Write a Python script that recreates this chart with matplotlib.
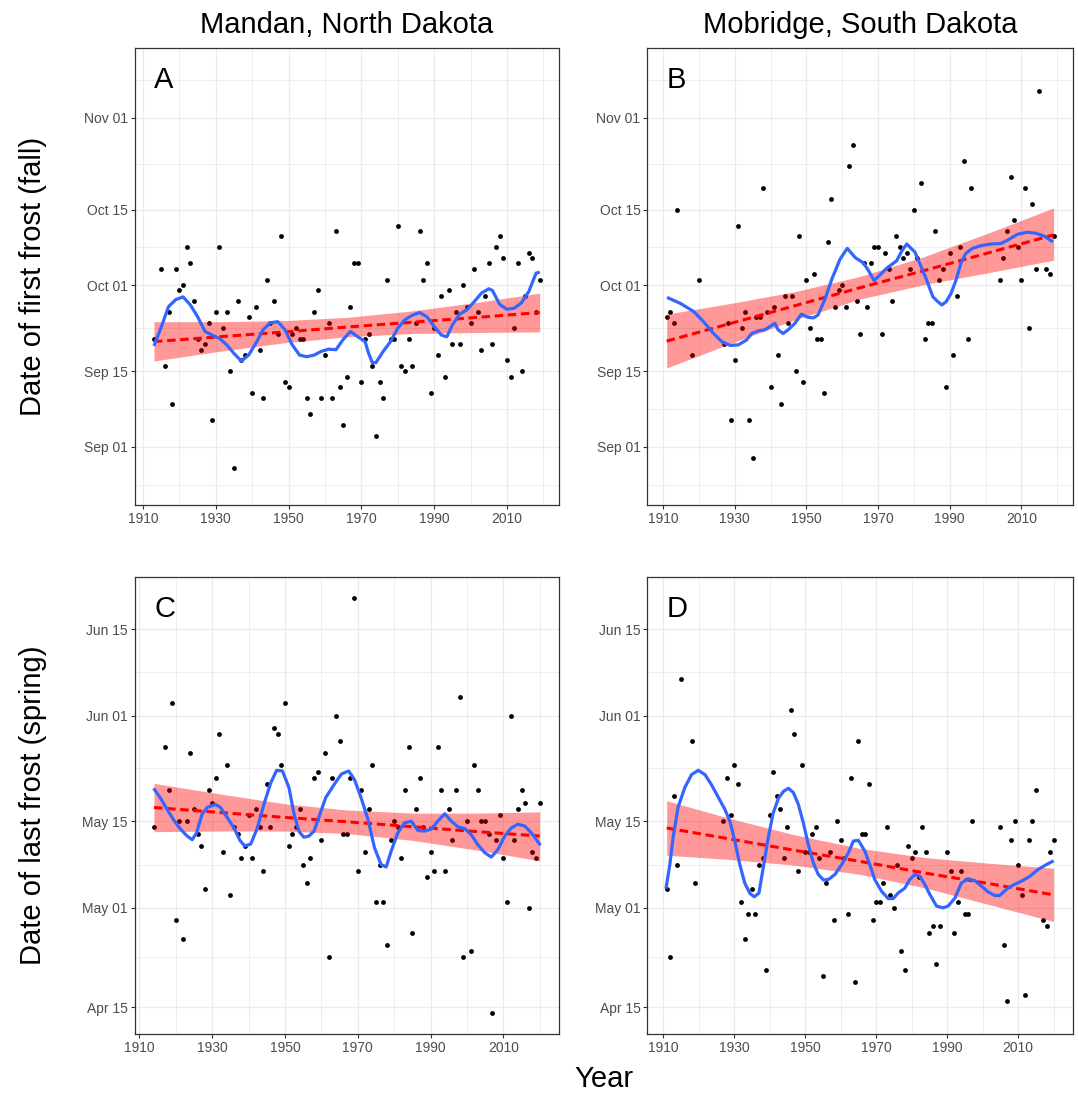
import matplotlib
matplotlib.use('Agg')
import matplotlib.pyplot as plt

plt.rcParams['font.family'] = ['Liberation Sans', 'DejaVu Sans']

# y values are day of year (non leap year)
fall_ticks = [244, 258, 274, 288, 305]
fall_labels = ['Sep 01', 'Sep 15', 'Oct 01', 'Oct 15', 'Nov 01']
fall_minor = [237, 251, 266, 281, 296.5, 312]
spring_ticks = [105, 121, 135, 152, 166]
spring_labels = ['Apr 15', 'May 01', 'May 15', 'Jun 01', 'Jun 15']
spring_minor = [113, 128, 143.5, 159]
year_ticks = [1910, 1930, 1950, 1970, 1990, 2010]
year_minor = [1920, 1940, 1960, 1980, 2000, 2020]

# ---- A : Mandan, first frost ----
a_year = [1913] + list(range(1915, 2020))
a_day = [264,
         277, 259, 269, 252, 277, 273, 274, 281, 278, 271,
         264, 262, 263, 267, 249, 269, 281, 266, 269, 258,
         240, 271, 260, 261, 268, 254, 270, 262, 253, 275,
         267, 271, 265, 283, 256, 255, 265, 266, 264, 264,
         253, 250, 269, 273, 253, 261, 267, 253, 284, 255,
         248, 257, 270, 278, 278, 256, 264, 265, 259, 246,
         256, 253, 275, 264, 264, 285, 259, 258, 264, 259,
         267, 284, 275, 278, 254, 266, 261, 272, 257, 273,
         263, 269, 263, 274, 270, 267, 277, 269, 262, 272,
         278, 263, 281, 283, 279, 260, 257, 266, 278, 258,
         272, 280, 279, 269, 275]
a_fit_x = [1913, 1931, 1949, 1966, 1984, 2002, 2019]
a_fit_mid = [263.5, 264.4, 265.3, 266.2, 267.1, 268.0, 268.9]
a_fit_lo = [259.9, 261.7, 263.3, 264.4, 265.0, 265.2, 265.3]
a_fit_hi = [267.2, 267.2, 267.4, 268.0, 269.2, 270.8, 272.5]
a_smooth_x = [1913, 1915, 1917, 1919, 1921, 1923, 1925, 1927, 1929, 1931,
              1933, 1935, 1937, 1939, 1941, 1943, 1945, 1947, 1949, 1951,
              1953, 1955, 1957, 1959, 1961, 1963, 1965, 1967, 1969, 1971,
              1972, 1973, 1974, 1976, 1978, 1980, 1982, 1984, 1986, 1988,
              1990, 1992, 1993.5, 1995, 1997, 1999, 2001, 2003, 2005, 2006,
              2008, 2010, 2012, 2014, 2016, 2018, 2019]
a_smooth_y = [262.7, 266.2, 270.0, 271.3, 271.8, 270.3, 268.1, 265.4, 264.7, 264.1,
              262.9, 261.3, 259.9, 261.0, 263.2, 265.7, 267.0, 267.2, 265.7, 262.9,
              261.0, 260.7, 261.0, 261.7, 262.1, 262.0, 263.9, 265.4, 264.4, 263.5,
              261.3, 259.6, 259.6, 261.7, 263.5, 266.0, 267.6, 268.4, 268.9, 268.1,
              266.3, 264.7, 264.4, 266.6, 268.6, 269.4, 270.9, 272.5, 273.3, 273.0,
              270.4, 269.5, 269.7, 270.7, 272.8, 276.2, 276.4]

# ---- B : Mobridge, first frost ----
b_year = [1911, 1912, 1913, 1914, 1918, 1920] + list(range(1927, 1997)) \
         + list(range(2004, 2016)) + [2017, 2018, 2019]
b_day = [268, 269, 267, 288, 261, 275,
         263, 267, 249, 260, 285, 266, 269, 249, 242, 268,
         268, 292, 269, 255, 270, 261, 252, 272, 267, 272,
         258, 283, 256, 275, 266, 276, 264, 264, 254, 282,
         290, 270, 273, 274, 270, 296, 300, 271, 265, 278,
         270, 278, 281, 281, 265, 280, 277, 271, 283, 281,
         279, 280, 277, 288, 279, 293, 264, 267, 267, 284,
         275, 277, 255, 280, 261, 272, 281, 297, 264, 292,
         275, 279, 284, 294, 286, 281, 275, 292, 266, 289, 277, 310,
         277, 276, 283]
b_fit_x = [1911, 1929, 1947, 1965, 1983, 2001, 2019]
b_fit_mid = [263.6, 266.9, 270.2, 273.5, 276.7, 280.0, 283.3]
b_fit_lo = [258.6, 263.2, 267.6, 271.4, 274.1, 276.3, 278.6]
b_fit_hi = [268.6, 270.6, 272.8, 275.6, 279.3, 283.7, 288.3]
b_smooth_x = [1911.1, 1914.8, 1918.5, 1921.3, 1924.1, 1926.4, 1928.7, 1931.0, 1933.3, 1934.7,
              1936.6, 1938.4, 1939.8, 1941.2, 1942.1, 1943.5, 1944.9, 1946.8, 1948.6, 1950.5,
              1951.9, 1953.2, 1955.2, 1957.1, 1959.4, 1961.4, 1963.6, 1965.9, 1967.3, 1968.9,
              1970.1, 1972.4, 1975.2, 1976.7, 1978.0, 1980.3, 1983.4, 1985.3, 1986.7, 1987.8,
              1989.0, 1990.4, 1991.8, 1993.1, 1994.5, 1996.4, 1998.7, 2001.5, 2004.3, 2006.1,
              2008.9, 2011.7, 2014.0, 2016.3, 2018.8]
b_smooth_y = [271.7, 270.6, 269.1, 267.2, 265.0, 263.5, 262.8, 262.9, 263.8, 265.0,
              265.5, 265.7, 266.3, 266.9, 265.7, 265.0, 265.7, 266.9, 268.6, 268.0,
              267.9, 268.4, 271.4, 275.1, 278.8, 280.8, 279.1, 278.1, 276.7, 274.8,
              275.6, 277.1, 278.5, 280.4, 281.6, 280.1, 275.2, 271.8, 270.9, 270.3,
              270.9, 272.5, 275.0, 278.0, 279.9, 280.8, 281.3, 281.6, 281.7, 282.3,
              283.4, 283.8, 283.6, 283.1, 282.0]

# ---- C : Mandan, last frost ----
c_year = [1914] + list(range(1917, 2021))
c_day = [134,
         147, 140, 154, 119, 135, 116, 135, 146, 137, 133,
         131, 124, 140, 138, 142, 149, 130, 144, 123, 134,
         133, 129, 131, 136, 129, 137, 134, 127, 141, 134,
         150, 149, 144, 154, 131, 133, 134, 137, 128, 125,
         129, 142, 143, 132, 146, 113, 142, 152, 148, 133,
         133, 142, 171, 127, 140, 130, 137, 144, 122, 128,
         122, 115, 132, 135, 134, 129, 140, 147, 117, 137,
         142, 134, 126, 130, 127, 147, 140, 127, 137, 132,
         140, 155, 113, 135, 114, 144, 140, 135, 135, 133,
         104, 132, 136, 129, 122, 152, 132, 137, 140, 138,
         121, 130, 129, 138]
c_fit_x = [1914, 1932, 1950, 1967, 1985, 2003, 2020]
c_fit_mid = [137.2, 136.4, 135.6, 134.9, 134.1, 133.3, 132.6]
c_fit_lo = [133.3, 133.4, 133.4, 133.0, 131.9, 130.3, 128.6]
c_fit_hi = [141.1, 139.4, 137.8, 136.8, 136.3, 136.3, 136.5]
c_smooth_x = [1913.9, 1915.8, 1917.6, 1919.4, 1921.3, 1923.1, 1924.5, 1925.7, 1927.2, 1928.6,
              1930.9, 1932.3, 1934.1, 1936.0, 1937.6, 1938.9, 1940.6, 1942.4, 1944.2, 1946.1,
              1947.7, 1949.3, 1951.1, 1952.5, 1953.9, 1955.2, 1956.6, 1958.0, 1959.4, 1961.2,
              1963.5, 1965.5, 1967.5, 1969.1, 1970.9, 1972.8, 1974.6, 1976.4, 1977.8, 1979.2,
              1981.0, 1982.8, 1984.7, 1986.5, 1988.3, 1990.2, 1992.0, 1993.9, 1995.7, 1997.5,
              1999.4, 2001.2, 2003.0, 2004.9, 2006.7, 2008.5, 2010.4, 2012.2, 2014.0, 2015.9,
              2017.7, 2019.1, 2020.2]
c_smooth_y = [140.3, 138.7, 136.9, 135.2, 133.7, 132.6, 132.0, 133.1, 136.1, 137.2,
              137.7, 137.2, 135.6, 133.9, 131.9, 131.0, 131.3, 133.9, 137.7, 141.2,
              143.2, 143.1, 140.4, 136.1, 133.3, 132.4, 132.6, 133.4, 135.8, 138.8,
              140.9, 142.6, 143.1, 141.7, 138.8, 135.3, 130.7, 128.0, 127.6, 130.2,
              133.1, 134.7, 135.0, 133.5, 133.4, 133.7, 135.0, 136.2, 135.0, 134.1,
              133.8, 132.8, 131.2, 129.9, 129.2, 130.4, 132.6, 133.9, 134.5, 134.2,
              133.1, 132.0, 131.1]

# ---- D : Mobridge, last frost ----
d_year = [1911, 1912, 1913, 1914, 1915, 1918, 1919] + list(range(1927, 1989)) \
         + list(range(1990, 1998)) + list(range(2005, 2016)) + [2017, 2018, 2019, 2020]
d_day = [124, 113, 139, 128, 158, 148, 125,
         135, 142, 136, 144, 141, 122, 116, 120, 124, 120,
         128, 129, 111, 136, 143, 139, 137, 129, 134, 153,
         149, 127, 144, 130, 130, 133, 134, 129, 110, 125,
         130, 119, 135, 132, 129, 120, 142, 109, 148, 133,
         133, 141, 119, 122, 122, 125, 134, 123, 121, 128,
         114, 111, 131, 129, 130, 126, 134, 130, 117, 118,
         112, 118,
         130, 127, 117, 122, 127, 120, 120, 135,
         134, 115, 106, 132, 135, 128, 123, 107, 132, 135, 140,
         119, 118, 130, 132]
d_fit_x = [1911, 1929, 1947, 1965.5, 1984, 2002, 2020]
d_fit_mid = [133.9, 132.1, 130.3, 128.5, 126.6, 124.9, 123.1]
d_fit_lo = [129.5, 128.8, 127.9, 126.4, 124.2, 121.5, 118.8]
d_fit_hi = [138.3, 135.4, 132.8, 130.6, 129.1, 128.2, 127.4]
d_smooth_x = [1910.8, 1911.9, 1912.8, 1914.2, 1916.1, 1918.0, 1919.9, 1921.8, 1923.6, 1925.5,
              1927.4, 1928.8, 1930.2, 1931.6, 1933.0, 1934.5, 1935.7, 1937.0, 1938.2, 1939.6,
              1941.0, 1942.5, 1943.9, 1945.3, 1946.7, 1948.1, 1949.5, 1950.9, 1952.3, 1953.7,
              1955.2, 1956.6, 1958.4, 1960.3, 1962.2, 1963.6, 1965.0, 1966.8, 1968.2, 1969.6,
              1971.5, 1973.4, 1974.8, 1976.2, 1978.1, 1979.5, 1980.9, 1982.3, 1983.7, 1985.1,
              1987.0, 1988.9, 1990.3, 1992.2, 1994.0, 1995.9, 1997.8, 1999.7, 2001.5, 2003.4,
              2004.8, 2006.7, 2008.6, 2010.9, 2013.3, 2015.6, 2018.0, 2020.0]
d_smooth_y = [124.1, 128.0, 132.3, 137.2, 140.4, 142.5, 143.2, 142.5, 140.9, 138.9,
              136.9, 135.0, 131.8, 128.0, 125.0, 123.3, 122.8, 123.4, 127.5, 132.3,
              136.3, 138.7, 139.8, 140.3, 139.6, 137.7, 134.7, 131.2, 128.3, 126.4,
              125.5, 125.6, 126.4, 128.0, 129.9, 131.8, 131.9, 130.2, 128.0, 125.6,
              123.7, 122.5, 122.5, 123.4, 124.2, 125.6, 126.4, 126.1, 124.8, 123.2,
              121.3, 121.0, 121.3, 122.6, 125.0, 125.7, 125.4, 124.5, 123.6, 123.0,
              123.0, 124.0, 124.7, 125.3, 126.1, 127.2, 128.0, 128.6]

W, H = 1078, 1094
fig = plt.figure(figsize=(W / 100, H / 100), dpi=100)

# panel boxes in pixels: left, top, right, bottom
panels = [
    ('A', (134.7, 48.3, 559, 505), a_year, a_day, a_fit_x, a_fit_mid, a_fit_lo, a_fit_hi,
     a_smooth_x, a_smooth_y, 'fall'),
    ('B', (647.3, 48.3, 1073, 505), b_year, b_day, b_fit_x, b_fit_mid, b_fit_lo, b_fit_hi,
     b_smooth_x, b_smooth_y, 'fall'),
    ('C', (134.7, 577, 559, 1034.3), c_year, c_day, c_fit_x, c_fit_mid, c_fit_lo, c_fit_hi,
     c_smooth_x, c_smooth_y, 'spring'),
    ('D', (647.3, 577, 1073, 1034.3), d_year, d_day, d_fit_x, d_fit_mid, d_fit_lo, d_fit_hi,
     d_smooth_x, d_smooth_y, 'spring'),
]

for letter, box, yr, dy, fx, fmid, flo, fhi, sx, sy, season in panels:
    l, t, r, b = box
    ax = fig.add_axes([l / W, 1 - b / H, (r - l) / W, (b - t) / H])

    ax.scatter(yr, dy, s=12, color='black', linewidths=0, zorder=3)
    ax.fill_between(fx, flo, fhi, color='red', alpha=0.4, linewidth=0, zorder=4)
    ax.plot(fx, fmid, color='red', linewidth=2.2, linestyle=(0, (2.8, 1.5)), zorder=5)
    ax.plot(sx, sy, color='#3366FF', linewidth=2.3, zorder=6,
            solid_joinstyle='round', solid_capstyle='butt')

    # ggplot style 5% expansion on x
    span = max(yr) - min(yr)
    ax.set_xlim(min(yr) - 0.05 * span, max(yr) + 0.05 * span)
    if season == 'fall':
        ax.set_ylim(233.2, 317.9)
        ax.set_yticks(fall_ticks)
        ax.set_yticklabels(fall_labels)
        ax.set_yticks(fall_minor, minor=True)
    else:
        ax.set_ylim(100.6, 174.4)
        ax.set_yticks(spring_ticks)
        ax.set_yticklabels(spring_labels)
        ax.set_yticks(spring_minor, minor=True)
    ax.set_xticks(year_ticks)
    ax.set_xticks(year_minor, minor=True)

    ax.set_axisbelow(True)
    ax.grid(which='major', color='#EBEBEB', linewidth=0.9)
    ax.grid(which='minor', color='#EBEBEB', linewidth=0.6)
    for sp in ax.spines.values():
        sp.set_color('#333333')
        sp.set_linewidth(0.9)
    ax.tick_params(which='major', direction='out', length=2.75, width=0.8, color='#333333',
                   labelcolor='#4D4D4D', labelsize=10, pad=2.2)
    ax.tick_params(which='minor', length=0)

    ax.text(0.046, 0.912, letter, transform=ax.transAxes, fontsize=21, va='baseline')

fig.text(346.9 / W, 1 - 33 / H, 'Mandan, North Dakota', ha='center', va='baseline', fontsize=21)
fig.text(860.2 / W, 1 - 33 / H, 'Mobridge, South Dakota', ha='center', va='baseline', fontsize=21)
fig.text(33 / W, 1 - 276.7 / H, 'Date of first frost (fall)', rotation=90,
         ha='center', va='center', fontsize=21)
fig.text(33 / W, 1 - 805.6 / H, 'Date of last frost (spring)', rotation=90,
         ha='center', va='center', fontsize=21)
fig.text(603.9 / W, 1 - 1087 / H, 'Year', ha='center', va='baseline', fontsize=21)

fig.savefig('out.png', dpi=100, facecolor='white')
